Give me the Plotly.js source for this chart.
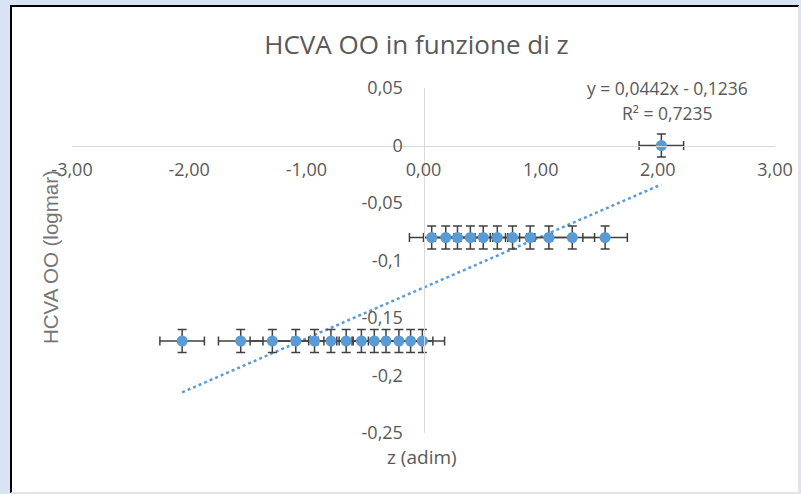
<!DOCTYPE html>
<html>
<head>
<meta charset="utf-8">
<script src="https://cdn.plot.ly/plotly-3.0.1.min.js"></script>
<style>
html, body { margin: 0; padding: 0; background: #dae3f3; width: 801px; height: 494px; overflow: hidden; }
#frame { position: absolute; left: 10px; top: 5px; width: 786px; height: 485px; background: #ffffff;
  border-left: 2px solid #000000; border-top: 2px solid #000000; border-right: 1px solid #e4e4e4; border-bottom: 1px solid #e4e4e4; }
#chart { position: absolute; left: 0; top: 0; width: 786px; height: 485px; }
</style>
</head>
<body>
<div id="frame"><div id="chart"></div></div>
<script>
// Data
const zTop = [2.03];
const hcvaTop = [0];
const zMid = [0.07, 0.19, 0.29, 0.40, 0.51, 0.63, 0.76, 0.91, 1.07, 1.27, 1.55];
const hcvaMid = [-0.08, -0.08, -0.08, -0.08, -0.08, -0.08, -0.08, -0.08, -0.08, -0.08, -0.08];
const zBot = [-2.06, -1.56, -1.29, -1.09, -0.93, -0.79, -0.66, -0.53, -0.42, -0.32, -0.21, -0.11, -0.01];
const hcvaBot = [-0.17, -0.17, -0.17, -0.17, -0.17, -0.17, -0.17, -0.17, -0.17, -0.17, -0.17, -0.17, -0.17];
const errZ = 0.19;
const errHcva = 0.01;
const trendSlope = 0.0442;
const trendIntercept = -0.1236;
const xTickVals = [-3, -2, -1, 0, 1, 2, 3];
const xTickText = ['-3,00', '-2,00', '-1,00', '0,00', '1,00', '2,00', '3,00'];
const yTickVals = [0.05, 0, -0.05, -0.1, -0.15, -0.2, -0.25];
const yTickText = ['0,05', '0', '-0,05', '-0,1', '-0,15', '-0,2', '-0,25'];

const zAll = zTop.concat(zMid, zBot);
const hAll = hcvaTop.concat(hcvaMid, hcvaBot);
const zMin = Math.min.apply(null, zAll);
const zMax = Math.max.apply(null, zAll);
const trendX = [zMin, zMax];
const trendY = trendX.map(v => trendSlope * v + trendIntercept);

const blue = '#5b9bd5';
const errColor = '#404040';
const txt = '#595959';
const fontMain = 'Open Sans, sans-serif';

const traces = [
  {
    x: trendX, y: trendY, mode: 'lines', type: 'scatter',
    line: { color: blue, width: 2.5, dash: 'dot' },
    hoverinfo: 'skip', showlegend: false
  },
  {
    x: zAll, y: hAll, mode: 'markers', type: 'scatter',
    marker: { color: blue, size: 11 },
    error_x: { type: 'constant', value: errZ, color: errColor, thickness: 1.5, width: 4.5 },
    error_y: { type: 'constant', value: errHcva, color: errColor, thickness: 1.5, width: 4.5 },
    showlegend: false
  }
];

const layout = {
  width: 786, height: 485,
  margin: { l: 60, r: 23, t: 81, b: 59, pad: 0 },
  paper_bgcolor: '#ffffff',
  plot_bgcolor: 'rgba(0,0,0,0)',
  showlegend: false,
  font: { family: fontMain, color: txt, size: 18 },
  title: {
    text: 'HCVA OO in funzione di z',
    font: { family: fontMain, size: 26, color: txt },
    xref: 'paper', x: 0.49, xanchor: 'center',
    yref: 'container', y: 0.921, yanchor: 'middle'
  },
  xaxis: {
    range: [-3, 3], anchor: 'free', position: 0.8333,
    showgrid: false, zeroline: false,
    showline: true, linecolor: '#d9d9d9', linewidth: 1,
    ticks: '', tickmode: 'array', tickvals: xTickVals, ticktext: xTickText,
    tickfont: { family: fontMain, size: 18, color: txt },
    ticklabelstandoff: 8
  },
  yaxis: {
    range: [-0.25, 0.05], anchor: 'free', position: 0.5,
    showgrid: false, zeroline: false,
    showline: true, linecolor: '#d9d9d9', linewidth: 1,
    ticks: '', tickmode: 'array', tickvals: yTickVals, ticktext: yTickText,
    tickfont: { family: fontMain, size: 18, color: txt },
    ticklabelstandoff: 17
  },
  annotations: [
    {
      text: 'z (adim)', xref: 'paper', yref: 'paper', x: 0.498, y: -0.0696,
      xanchor: 'center', yanchor: 'middle', showarrow: false,
      font: { family: fontMain, size: 19, color: txt }
    },
    {
      text: 'HCVA OO (logmar)', xref: 'paper', yref: 'paper', x: -0.0313, y: 0.51,
      xanchor: 'center', yanchor: 'middle', showarrow: false, textangle: -90,
      font: { family: 'Liberation Sans, Arial, sans-serif', size: 20.5, color: '#767676' }
    },
    {
      text: 'y = 0,0442x - 0,1236', xref: 'paper', yref: 'paper', x: 0.8464, y: 1.0,
      xanchor: 'center', yanchor: 'middle', showarrow: false,
      font: { family: fontMain, size: 17.5, color: txt }
    },
    {
      text: 'R² = 0,7235', xref: 'paper', yref: 'paper', x: 0.8464, y: 0.9275,
      xanchor: 'center', yanchor: 'middle', showarrow: false,
      font: { family: fontMain, size: 17.5, color: txt }
    }
  ]
};

Plotly.newPlot('chart', traces, layout, { displayModeBar: false, staticPlot: true });
</script>
</body>
</html>
